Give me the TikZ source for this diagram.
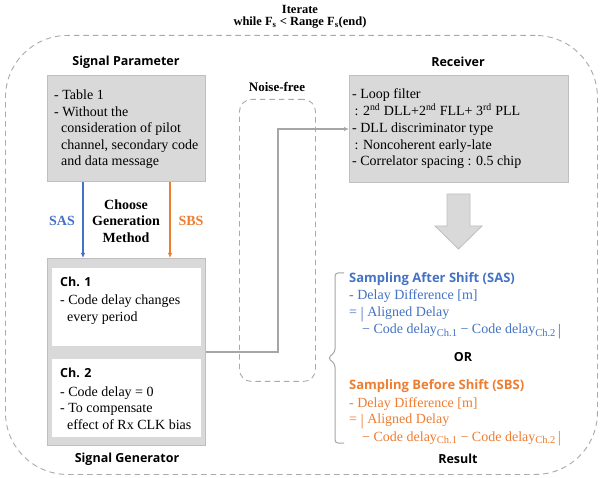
\documentclass[tikz,border=0pt]{standalone}
\usepackage{fontspec}
\setmainfont{Liberation Serif}
\newfontfamily\hsans{Open Sans}
\usetikzlibrary{arrows.meta}
\definecolor{sasblue}{HTML}{4472C4}
\definecolor{sbsorange}{HTML}{ED7D31}
\definecolor{boxfill}{HTML}{D9D9D9}
\definecolor{boxedge}{HTML}{BFBFBF}
\definecolor{dashgray}{HTML}{AAAAAA}
\definecolor{linegray}{HTML}{A6A6A6}
\newcommand{\chsub}[1]{\raisebox{-2.8pt}{\fontsize{10.5}{10.5}\selectfont #1}}
\newcommand{\tallbar}{\raisebox{-1.5pt}{\fontsize{16}{16}\selectfont |}}
\begin{document}
\begin{tikzpicture}[x=1pt,y=-1pt,
  txt/.style={font=\fontsize{14}{16.5}\selectfont, anchor=base west, inner sep=0},
  hdr/.style={font=\hsans\bfseries\fontsize{12.5}{15}\selectfont, inner sep=0},
  chd/.style={font=\hsans\bfseries\fontsize{12.5}{15}\selectfont, inner sep=0, anchor=base west},
  bser/.style={font=\bfseries\fontsize{14}{16.5}\selectfont, inner sep=0},
  gbox/.style={draw=boxedge, fill=boxfill, line width=1pt, anchor=north west, inner sep=0},
  wbox/.style={fill=white, draw=none, anchor=north west, inner sep=0},
  dashbox/.style={draw=dashgray, dash pattern=on 5.5pt off 4pt, line width=0.9pt, anchor=north west, inner sep=0},
  conn/.style={draw=linegray, line width=1.1pt, -{Latex[length=5pt,width=4.5pt]}},
  selarrow/.style={line width=1.1pt, -{Latex[length=5pt,width=4.5pt]}}
]
\useasboundingbox (0,0) rectangle (600,478);
\fill[white] (0,0) rectangle (600,478);

% outer loop
\node[dashbox, rounded corners=62pt, minimum width=592, minimum height=439] (loop) at (5,35) {};
\node[font=\bfseries\fontsize{12.5}{15}\selectfont, inner sep=0] (iter) at (300,9) {Iterate};
\node[font=\bfseries\fontsize{12.5}{15}\selectfont, inner sep=0] (while) at (300,23) {while F\textsubscript{s} \textless{} Range F\textsubscript{s}(end)};

% signal parameter
\node[hdr] (sphdr) at (126,62) {Signal Parameter};
\node[gbox, minimum width=158, minimum height=106] (sp) at (47,75) {};
\foreach \xx/\t [count=\i] in {54/{- Table 1}, 54/{- Without the}, 61/{consideration of pilot}, 61/{channel, secondary code}, 61/{and data message}}
  \node[txt] (spt\i) at (\xx,{100+16.5*(\i-1)}) {\t};

% choose generation
\coordinate (sasx) at (83,0);
\coordinate (sbsx) at (170,0);
\node[gbox, minimum width=158, minimum height=187] (sg) at (47,258) {};
\draw[selarrow, sasblue] (sp.south -| sasx) -- (sg.north -| sasx);
\draw[selarrow, sbsorange] (sp.south -| sbsx) -- (sg.north -| sbsx);
\node[bser, text=sasblue] (saslbl) at (62,221) {SAS};
\node[bser, text=sbsorange] (sbslbl) at (191,221) {SBS};
\node[bser, align=center] (choose) at (126,221) {Choose\\Generation\\Method};

% signal generator
\node[wbox, minimum width=149, minimum height=78] (ch1) at (52,268) {};
\node[wbox, minimum width=149, minimum height=78] (ch2) at (52,359) {};
\node[chd] (ch1h) at (60,286.5) {Ch. 1};
\node[txt] (ch1a) at (60,305) {- Code delay changes};
\node[txt] (ch1b) at (67,321.5) {every period};
\node[chd] (ch2h) at (60,377.5) {Ch. 2};
\node[txt] (ch2a) at (60,396) {- Code delay = 0};
\node[txt] (ch2b) at (60,412.5) {- To compensate};
\node[txt] (ch2c) at (67,429) {effect of Rx CLK bias};
\node[hdr] (sghdr) at (127,459) {Signal Generator};

% noise free
\node[dashbox, rounded corners=12pt, minimum width=76, minimum height=282] (nf) at (239,99) {};
\node[bser, font=\bfseries\fontsize{13}{15}\selectfont] (nfl) at (277,87) {Noise-free};

% receiver
\node[hdr] (rchdr) at (458,62) {Receiver};
\node[gbox, minimum width=219, minimum height=107] (rc) at (349,75) {};
\node[txt] (rc1) at (352,99) {- Loop filter};
\node[txt] (rc2) at (352,115.75) {\,: 2\textsuperscript{nd} DLL+2\textsuperscript{nd} FLL+ 3\textsuperscript{rd} PLL};
\node[txt] (rc3) at (352,132.5) {- DLL discriminator type};
\node[txt] (rc4) at (352,149.25) {\,: Noncoherent early-late};
\node[txt] (rc5) at (352,166) {- Correlator spacing : 0.5 chip};

% connector generator -> receiver
\draw[conn] (sg.east) -- ++(72,0) |- (rc.west);

% big arrow
\draw[draw=boxedge, fill=boxfill, line width=0.8pt] (447,194) -- (470,194) -- (470,226) -- (482,226) -- (458.5,249) -- (435,226) -- (447,226) -- cycle;

% brace
\draw[draw=linegray, line width=1pt, rounded corners=3pt] (344,273) -- (335,273) -- (335,352) -- (328,358) -- (335,364) -- (335,443) -- (344,443);

% result
\node[chd, text=sasblue, font=\hsans\bfseries\fontsize{13}{15}\selectfont] (sast) at (349,283) {Sampling After Shift (SAS)};
\node[txt, text=sasblue] (sas1) at (349,300) {- Delay Difference [m]};
\node[txt, text=sasblue] (sas2) at (349,317) {= \tallbar\ Aligned Delay};
\node[txt, text=sasblue] (sas3) at (362,334) {− Code delay\chsub{Ch.1} − Code delay\chsub{Ch.2}\,\tallbar};
\node[hdr] (or) at (463,357) {OR};
\node[chd, text=sbsorange, font=\hsans\bfseries\fontsize{13}{15}\selectfont] (sbst) at (349,390) {Sampling Before Shift (SBS)};
\node[txt, text=sbsorange] (sbs1) at (349,407) {- Delay Difference [m]};
\node[txt, text=sbsorange] (sbs2) at (349,424) {= \tallbar\ Aligned Delay};
\node[txt, text=sbsorange] (sbs3) at (362,441) {− Code delay\chsub{Ch.1} − Code delay\chsub{Ch.2}\,\tallbar};
\node[hdr] (res) at (458,459) {Result};
\end{tikzpicture}
\end{document}
